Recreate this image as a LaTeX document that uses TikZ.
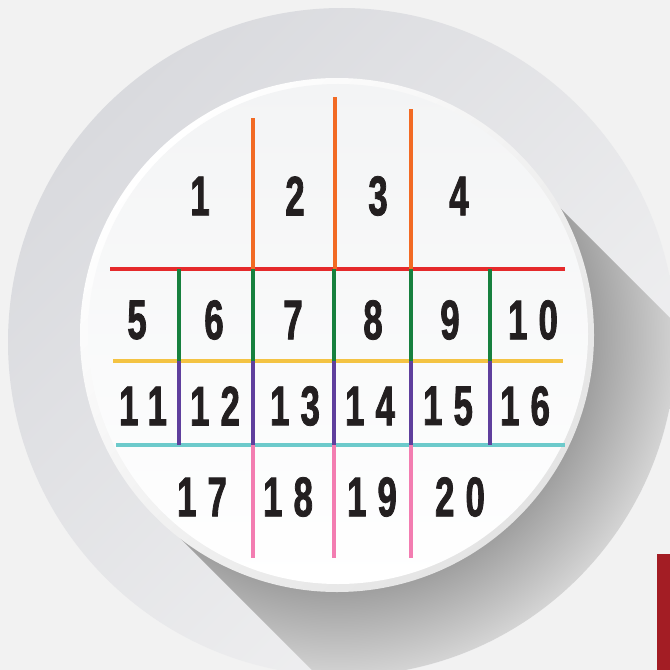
\documentclass[tikz,border=0pt]{standalone}
\usepackage{fontspec}
\newfontfamily\numfont[FakeStretch=0.62,LetterSpace=20,FakeBold=1.4]{Liberation Sans}
\definecolor{bgcol}{HTML}{F2F2F2}
\definecolor{ringtop}{HTML}{D9DADE}
\definecolor{ringbot}{HTML}{F2F2F3}
\definecolor{shadowdark}{HTML}{A0A0A0}
\definecolor{shadowlight}{HTML}{E0E0E0}
\definecolor{rimcol}{HTML}{E4E4E4}
\definecolor{facetop}{HTML}{F3F4F5}
\definecolor{redline}{HTML}{E52A2C}
\definecolor{orangeline}{HTML}{F26A24}
\definecolor{greenline}{HTML}{17803E}
\definecolor{yellowline}{HTML}{F4C343}
\definecolor{purpleline}{HTML}{5F3F9D}
\definecolor{cyanline}{HTML}{6DCACB}
\definecolor{pinkline}{HTML}{F37DB1}
\definecolor{numcol}{HTML}{231F20}
\definecolor{tabcol}{HTML}{A31D24}
\pgfdeclareradialshading{shadowfade}{\pgfpoint{0bp}{0bp}}{%
  color(0bp)=(shadowdark); color(15.3bp)=(shadowdark);
  color(21.5bp)=(shadowlight); color(50bp)=(shadowlight)}
\tikzset{
  gridline/.style={line width=2.2pt},
  num/.style={font=\numfont\bfseries\fontsize{39.8}{40}\selectfont, text=numcol, inner sep=0pt}
}
\begin{document}
\begin{tikzpicture}[x=0.025cm, y=-0.025cm]
    \clip (0,0) rectangle (670,670);
    \fill[bgcol] (0,0) rectangle (670,670);
    % big ring and long shadow
    \shade[top color=ringtop, bottom color=ringbot, shading angle=45] (342,342) circle[radius=334];
    \begin{scope}
        \clip (342,342) circle[radius=334];
        \clip (512,160) -- (912,560) -- (557,915) -- (157,515) -- cycle;
        \shade[shading=shadowfade] (-83,-85) rectangle (757,755);
    \end{scope}
    % white face
    \shade[top color=white, bottom color=rimcol, shading angle=45] (337,335) circle[radius=257];
    \shade[top color=facetop, bottom color=white] (338,334) circle[radius=250];

    % horizontal lines
    \draw[gridline, redline] (110,269) -- (565,269);
    \draw[gridline, yellowline] (113,361) -- (563,361);
    \draw[gridline, cyanline] (116,445) -- (565,445);
    % top verticals
    \draw[gridline, orangeline] (253,118) -- (253,269);
    \draw[gridline, orangeline] (335,97) -- (335,269);
    \draw[gridline, orangeline] (411,109) -- (411,269);
    % middle verticals
    \foreach \x in {179,253,334,411,490} {
        \draw[gridline, greenline] (\x,269) -- (\x,361);
        \draw[gridline, purpleline] (\x,361) -- (\x,445);
    }
    % bottom verticals
    \foreach \x in {253,334,411}
        \draw[gridline, pinkline] (\x,445) -- (\x,558);

    % numbers
    \node[num] (n1) at (200,196) {1};
    \node[num] (n2) at (295,196) {2};
    \node[num] (n3) at (378,196) {3};
    \node[num] (n4) at (459,196) {4};
    \node[num] (n5) at (137,320) {5};
    \node[num] (n6) at (214,320) {6};
    \node[num] (n7) at (293,320) {7};
    \node[num] (n8) at (373,320) {8};
    \node[num] (n9) at (450,320) {9};
    \node[num] (n10) at (533,320) {10};
    \node[num] (n11) at (143,406) {11};
    \node[num] (n12) at (215,406) {12};
    \node[num] (n13) at (295,406) {13};
    \node[num] (n14) at (370,406) {14};
    \node[num] (n15) at (448,406) {15};
    \node[num] (n16) at (525,406) {16};
    \node[num] (n17) at (202,497) {17};
    \node[num] (n18) at (288,497) {18};
    \node[num] (n19) at (372,497) {19};
    \node[num] (n20) at (460,497) {20};

    % red tab
    \fill[tabcol] (657,554) rectangle (670,670);
\end{tikzpicture}
\end{document}
